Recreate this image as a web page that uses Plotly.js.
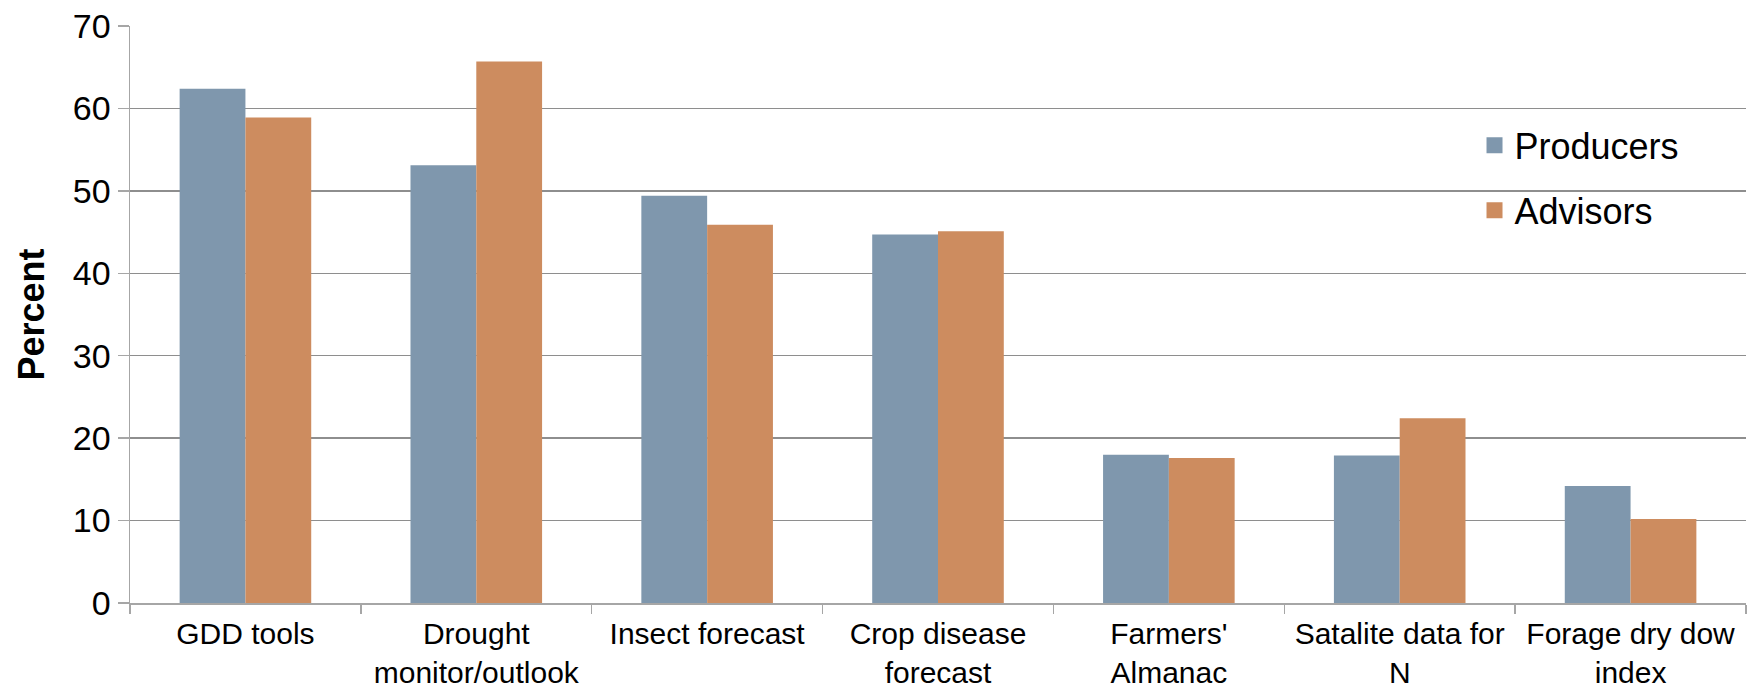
<!DOCTYPE html>
<html>
<head>
<meta charset="utf-8">
<script src="https://cdn.plot.ly/plotly-3.0.1.min.js"></script>
<style>html,body{margin:0;padding:0;background:#fff;}#chart{width:1758px;height:693px;}</style>
</head>
<body>
<div id="chart"></div>
<script>
const categories = ["GDD tools", "Drought<br>monitor/outlook", "Insect forecast", "Crop disease<br>forecast", "Farmers'<br>Almanac", "Satalite data for<br>N", "Forage dry dow<br>index"];
const producers = [62.4, 53.1, 49.4, 44.7, 18.0, 17.9, 14.2];
const advisors = [58.9, 65.7, 45.9, 45.1, 17.6, 22.4, 10.2];
const seriesNames = ["Producers", "Advisors"];
const seriesColors = ["#7F97AD", "#CD8C5F"];
const yTicks = [0, 10, 20, 30, 40, 50, 60, 70];

const font = "Liberation Sans, Arial, sans-serif";
const data = [
  {type: "bar", name: seriesNames[0], x: categories, y: producers, marker: {color: seriesColors[0]}, showlegend: false, hoverinfo: "none"},
  {type: "bar", name: seriesNames[1], x: categories, y: advisors, marker: {color: seriesColors[1]}, showlegend: false, hoverinfo: "none"},
  {type: "scatter", mode: "markers", name: seriesNames[0], x: [null], y: [null], marker: {symbol: "square", size: 19, color: seriesColors[0]}, legendgroup: "a", showlegend: true},
  {type: "scatter", mode: "markers", name: seriesNames[1], x: [null], y: [null], marker: {symbol: "square", size: 19, color: seriesColors[1]}, legendgroup: "b", showlegend: true}
];
const layout = {
  width: 1758, height: 693,
  margin: {l: 130, r: 12, t: 26, b: 90},
  paper_bgcolor: "#fff", plot_bgcolor: "#fff",
  barmode: "group", bargap: 0.43, bargroupgap: 0,
  font: {family: font, color: "#000"},
  showlegend: true,
  legend: {x: 0.832, y: 0.845, xanchor: "left", yanchor: "top", font: {size: 36, family: font}, tracegroupgap: 15, bgcolor: "rgba(0,0,0,0)", itemsizing: "trace"},
  xaxis: {
    type: "category", tickson: "boundaries", ticks: "outside", ticklen: 9, tickcolor: "#a6a6a6", tickwidth: 1.5,
    showline: true, linecolor: "#a6a6a6", linewidth: 1.5, showgrid: false,
    tickfont: {size: 30, family: font}, tickangle: 0, ticklabelstandoff: 3
  },
  yaxis: {
    range: [0, 70], tickvals: yTicks, ticktext: yTicks.map(String),
    ticks: "outside", ticklen: 11, tickcolor: "#a6a6a6", tickwidth: 1.5,
    showline: true, linecolor: "#a6a6a6", linewidth: 1.5,
    showgrid: true, gridcolor: "#8e8e8e", gridwidth: 1.3, zeroline: false,
    tickfont: {size: 34, family: font},
    title: {text: "<b>Percent</b>", font: {size: 36, family: font}, standoff: 17}
  }
};
Plotly.newPlot("chart", data, layout, {staticPlot: true});
</script>
</body>
</html>
